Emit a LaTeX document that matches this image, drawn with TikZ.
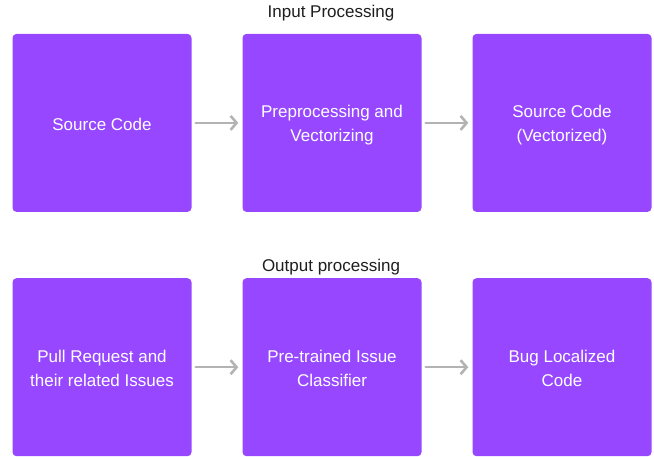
\documentclass[tikz,border=0pt]{standalone}
\usepackage{fontspec}
\setmainfont{Liberation Sans}
\usetikzlibrary{arrows.meta}
\definecolor{boxpurple}{HTML}{9747FF}
\definecolor{arrowgray}{HTML}{B3B3B3}
\definecolor{titlegray}{HTML}{1E1E1E}
\tikzset{
  box/.style={fill=boxpurple, rounded corners=4pt, minimum width=179pt, minimum height=178pt, inner sep=0pt, align=center, text=white, font=\fontsize{17}{24}\selectfont, anchor=north west},
  lbl/.style={text=white, align=center, font=\fontsize{17}{24}\selectfont, inner sep=0pt},
  conn/.style={draw=arrowgray, line width=2.6pt, line cap=round, line join=round, -{Straight Barb[length=6pt,width=14pt,line width=2.6pt]}},
  title/.style={text=titlegray, font=\fontsize{17}{20}\selectfont}
}
\begin{document}
\begin{tikzpicture}[x=1pt,y=-1pt]
\useasboundingbox (0,0) rectangle (654,457);
\node[title] (t1) at (331,13) {Input Processing};
\node[title] (t2) at (331,267) {Output processing};
\node[box] (a1) at (12.3,33.7) {};
\node[box] (a2) at (242.3,33.7) {};
\node[box] (a3) at (472.3,33.7) {};
\node[box] (b1) at (12.3,278) {};
\node[box] (b2) at (242.3,278) {};
\node[box] (b3) at (472.3,278) {};
\node[lbl] (la1) at ([yshift=-1.5pt]a1.center) {Source Code};
\node[lbl] (la2) at ([yshift=-2.5pt]a2.center) {Preprocessing and\\Vectorizing};
\node[lbl] (la3) at ([yshift=-2.5pt]a3.center) {Source Code\\(Vectorized)};
\node[lbl] (lb1) at ([yshift=-0.8pt]b1.center) {Pull Request and\\their related Issues};
\node[lbl] (lb2) at ([yshift=-0.8pt]b2.center) {Pre-trained Issue\\Classifier};
\node[lbl] (lb3) at ([yshift=-0.8pt]b3.center) {Bug Localized\\Code};
\draw[conn] ([xshift=4pt]a1.east) -- ([xshift=-4pt]a2.west);
\draw[conn] ([xshift=4pt]a2.east) -- ([xshift=-4pt]a3.west);
\draw[conn] ([xshift=4pt]b1.east) -- ([xshift=-4pt]b2.west);
\draw[conn] ([xshift=4pt]b2.east) -- ([xshift=-4pt]b3.west);
\end{tikzpicture}
\end{document}
